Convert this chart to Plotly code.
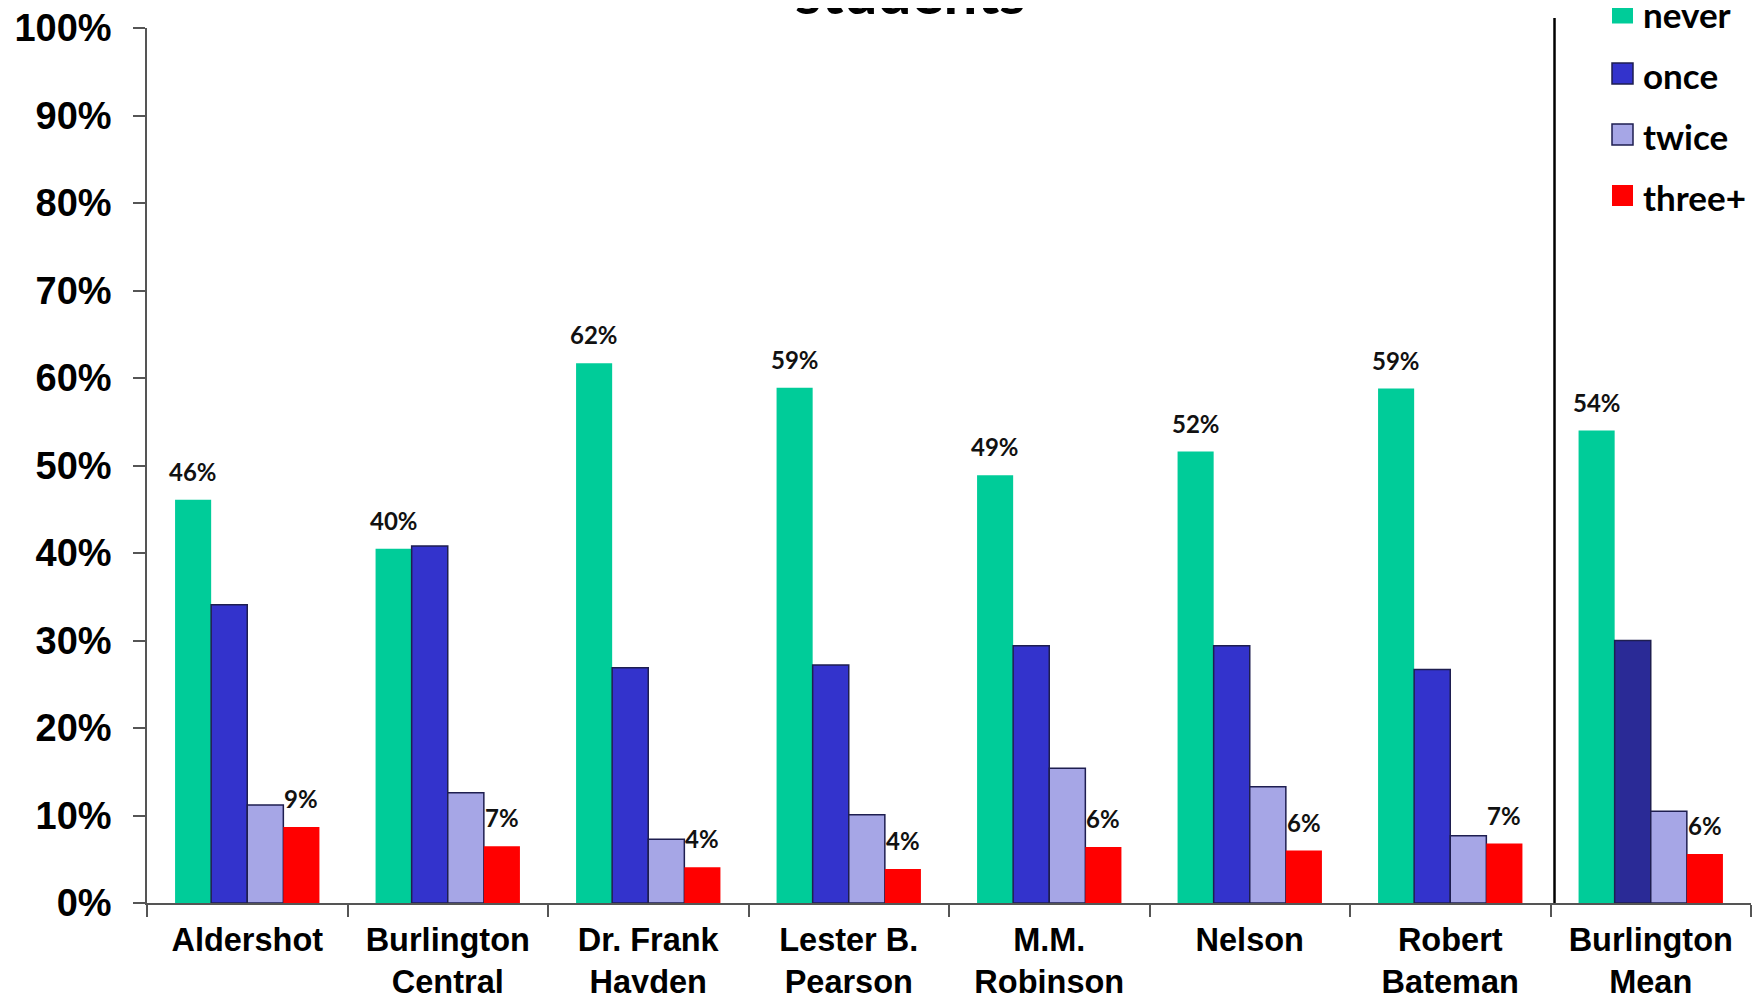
import plotly.graph_objects as go

# ---------------- data ----------------
categories = ["Aldershot", "Burlington<br>Central", "Dr. Frank<br>Hayden",
              "Lester B.<br>Pearson", "M.M.<br>Robinson", "Nelson",
              "Robert<br>Bateman", "Burlington<br>Mean"]
series_names = ["never", "once", "twice", "three+"]
never = [46.1, 40.5, 61.7, 58.9, 48.9, 51.6, 58.8, 54.0]
once = [34.1, 40.8, 26.9, 27.2, 29.4, 29.4, 26.7, 30.0]
twice = [11.2, 12.6, 7.3, 10.1, 15.4, 13.3, 7.7, 10.5]
three_plus = [8.7, 6.5, 4.1, 3.9, 6.4, 6.0, 6.8, 5.6]
never_labels = ["46%", "40%", "62%", "59%", "49%", "52%", "59%", "54%"]
three_labels = ["9%", "7%", "4%", "4%", "6%", "6%", "7%", "6%"]
y_ticks = [0, 10, 20, 30, 40, 50, 60, 70, 80, 90, 100]
y_tick_text = ["0%", "10%", "20%", "30%", "40%", "50%", "60%", "70%", "80%", "90%", "100%"]
title_text = "students"

# ---------------- style ----------------
OFF = 8  # default page body margin
W, H = 1762 - OFF, 993 - OFF
L, T = 147 - OFF, 28 - OFF
PLOT_RIGHT, PLOT_BOTTOM = 1751 - OFF, 903 - OFF
R = W - PLOT_RIGHT
B = H - PLOT_BOTTOM
PW = PLOT_RIGHT - L
PH = PLOT_BOTTOM - T
BARGAP = 0.28

GREEN = "#00CC99"
BLUE = "#3333CC"
BLUE_MEAN = "#2A2A96"
LAV = "#A6A6E6"
RED = "#FF0000"
OUTLINE = "#1E1E50"
AXIS = "#555555"

AX_FONT = "Liberation Sans, Arial, sans-serif"
LBL_FONT = "Lato, Open Sans, sans-serif"


def px_x(px):  # screen pixel -> paper
    return (px - OFF - L) / PW


def px_y(py):
    return (PLOT_BOTTOM - (py - OFF)) / PH


once_colors = [BLUE] * (len(categories) - 1) + [BLUE_MEAN]

fig = go.Figure()
fig.add_trace(go.Bar(x=categories, y=never, name=series_names[0],
                     marker=dict(color=GREEN, line=dict(width=0)), showlegend=False))
fig.add_trace(go.Bar(x=categories, y=once, name=series_names[1],
                     marker=dict(color=once_colors, line=dict(color=OUTLINE, width=1.5)),
                     showlegend=False))
fig.add_trace(go.Bar(x=categories, y=twice, name=series_names[2],
                     marker=dict(color=LAV, line=dict(color=OUTLINE, width=1.5)),
                     showlegend=False))
fig.add_trace(go.Bar(x=categories, y=three_plus, name=series_names[3],
                     marker=dict(color=RED, line=dict(width=0)), showlegend=False))

cat_px = PW / len(categories)
bar_px = cat_px * (1 - BARGAP) / len(series_names)

annotations = []
label_font = dict(family=LBL_FONT, size=24, color="#111111", weight="bold")
for i, c in enumerate(categories):
    annotations.append(dict(x=c, y=never[i], xref="x", yref="y", text=never_labels[i],
                            showarrow=False, xanchor="center", yanchor="bottom",
                            xshift=-1.5 * bar_px, yshift=12, font=label_font))
    annotations.append(dict(x=c, y=three_plus[i], xref="x", yref="y", text=three_labels[i],
                            showarrow=False, xanchor="center", yanchor="bottom",
                            xshift=1.5 * bar_px, yshift=12, font=label_font))

# title (only the bottom line is visible in the reference)
annotations.append(dict(x=px_x(910), y=px_y(-9), xref="paper", yref="paper", text=title_text,
                        showarrow=False, xanchor="center", yanchor="middle",
                        font=dict(family=LBL_FONT, size=60, color="#000000", weight="bold")))

# manual legend
shapes = []
legend_colors = [(GREEN, GREEN), (BLUE, OUTLINE), (LAV, OUTLINE), (RED, RED)]
legend_centers = [13, 73.5, 134.5, 195.5]
for name, (fc, lc), cy in zip(series_names, legend_colors, legend_centers):
    shapes.append(dict(type="rect", xref="paper", yref="paper",
                       x0=px_x(1612), x1=px_x(1633), y0=px_y(cy + 10.5), y1=px_y(cy - 10.5),
                       fillcolor=fc, line=dict(color=lc, width=1.5 if lc == OUTLINE else 0)))
    annotations.append(dict(x=px_x(1641), y=px_y(cy + 1), xref="paper", yref="paper", text=name,
                            showarrow=False, xanchor="left", yanchor="middle",
                            font=dict(family=LBL_FONT, size=35, color="#000000", weight="bold")))

# divider between schools and mean
shapes.append(dict(type="line", xref="x", yref="paper", x0=6.52, x1=6.52,
                   y0=0, y1=px_y(18), line=dict(color="#000000", width=2.5)))

fig.update_layout(
    width=W, height=H,
    margin=dict(l=L, r=R, t=T, b=B, pad=0, autoexpand=False),
    barmode="group", bargap=BARGAP, bargroupgap=0,
    plot_bgcolor="white", paper_bgcolor="white",
    annotations=annotations, shapes=shapes,
    xaxis=dict(showline=True, linecolor=AXIS, linewidth=1.5, ticks="outside",
               tickson="boundaries", ticklen=12, tickcolor=AXIS, tickwidth=1.5,
               ticklabelstandoff=7, automargin=False, ticklabeloverflow="allow",
               tickfont=dict(family=AX_FONT, size=32.5, color="#000000", weight="bold"),
               showgrid=False, zeroline=False),
    yaxis=dict(range=[0, 100], tickmode="array", tickvals=y_ticks, ticktext=y_tick_text,
               showline=True, automargin=False, ticklabeloverflow="allow",
               linecolor=AXIS, linewidth=1.5, ticks="outside", ticklen=12,
               tickcolor=AXIS, tickwidth=1.5, ticklabelstandoff=14,
               tickfont=dict(family=AX_FONT, size=38, color="#000000", weight="bold"),
               showgrid=False, zeroline=False),
)

fig.write_html("out.html")
